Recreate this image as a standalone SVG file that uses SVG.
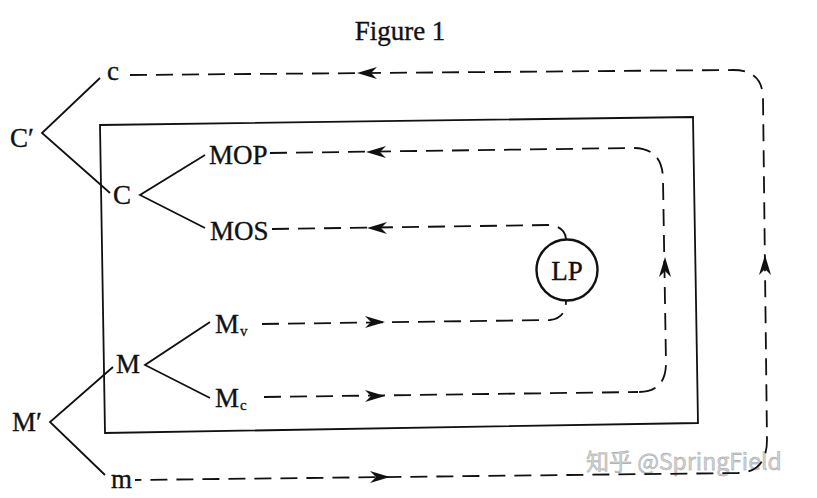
<svg xmlns="http://www.w3.org/2000/svg" width="817" height="498" viewBox="0 0 817 498">
<style>
  .lbl { font-family: "Liberation Serif", "Times New Roman", serif; font-size: 27px; fill: #111; stroke: #111; stroke-width: 0.35; }
  .sub { font-family: "Liberation Serif", "Times New Roman", serif; font-size: 15px; fill: #111; stroke: #111; stroke-width: 0.3; }
  .solid { fill: none; stroke: #111; stroke-width: 1.8; }
  .dash { fill: none; stroke: #111; stroke-width: 1.8; stroke-dasharray: 17 9; }
  .wm { font-family: "Noto Sans CJK SC", "Noto Sans", sans-serif; font-size: 23px; fill: #d2d2d2; stroke: #9a9a9a; stroke-width: 0.4; }
</style>
<defs>
  <path id="ah" d="M0,0 L-20,-6 L-14,0 L-20,6 Z" fill="#111"/>
</defs>
<rect width="817" height="498" fill="#fff"/>
<text x="400" y="40" text-anchor="middle" class="lbl" style="font-size:27px">Figure 1</text>

<g id="box"><path class="solid" d="M100,125 L693,117 L698,423 L105,433 Z"/></g>

<g id="Cprime"><text x="10" y="147" class="lbl">C′</text></g>
<g id="c"><text x="107" y="80" class="lbl">c</text></g>
<g id="C"><text x="113" y="204" class="lbl">C</text></g>
<g id="MOP"><text x="209" y="164" class="lbl">MOP</text></g>
<g id="MOS"><text x="210" y="240" class="lbl">MOS</text></g>
<g id="LP"><circle cx="567" cy="270" r="30.5" fill="#fff" stroke="#111" stroke-width="2.4"/><text x="567" y="280" text-anchor="middle" class="lbl">LP</text></g>
<g id="Mv"><text x="215" y="333" class="lbl">M</text><text x="240" y="336" class="sub">v</text></g>
<g id="M"><text x="116" y="373" class="lbl">M</text></g>
<g id="Mc"><text x="215" y="407" class="lbl">M</text><text x="240" y="410" class="sub">c</text></g>
<g id="Mprime"><text x="12" y="431" class="lbl">M′</text></g>
<g id="m"><text x="111" y="488" class="lbl">m</text></g>
<g id="watermark"><text x="586" y="470" class="wm">知乎 @SpringField</text></g>

<g id="connectors">
  <path class="solid" d="M100,78 L42,133 L110,193"/>
  <path class="solid" d="M205,155 L140,195 L205,228"/>
  <path class="solid" d="M113,367 L50,422 L105,475"/>
  <path class="solid" d="M210,322 L145,365 L210,398"/>

  <path class="dash" d="M130,75 L733,70 Q762,70 763,97 L767,440 Q767,472 738,473 L135,480"/>
  <path class="dash" d="M270,153 L633,148 Q663,148 663,180 L666,363 Q666,392 638,392"/>
  <path class="dash" d="M264,397 L638,392"/>
  <path class="dash" d="M272,229 L548,225 Q565,226 566,239"/>
  <path class="dash" d="M262,324 L550,320 Q566,318 566,301"/>

  <use href="#ah" transform="translate(357,73) rotate(180)"/>
  <use href="#ah" transform="translate(366,152) rotate(180)"/>
  <use href="#ah" transform="translate(367,228) rotate(180)"/>
  <use href="#ah" transform="translate(385,322)"/>
  <use href="#ah" transform="translate(385,396)"/>
  <use href="#ah" transform="translate(390,477)"/>
  <use href="#ah" transform="translate(665,257) rotate(-90)"/>
  <use href="#ah" transform="translate(765,255) rotate(-90)"/>
</g>
</svg>
